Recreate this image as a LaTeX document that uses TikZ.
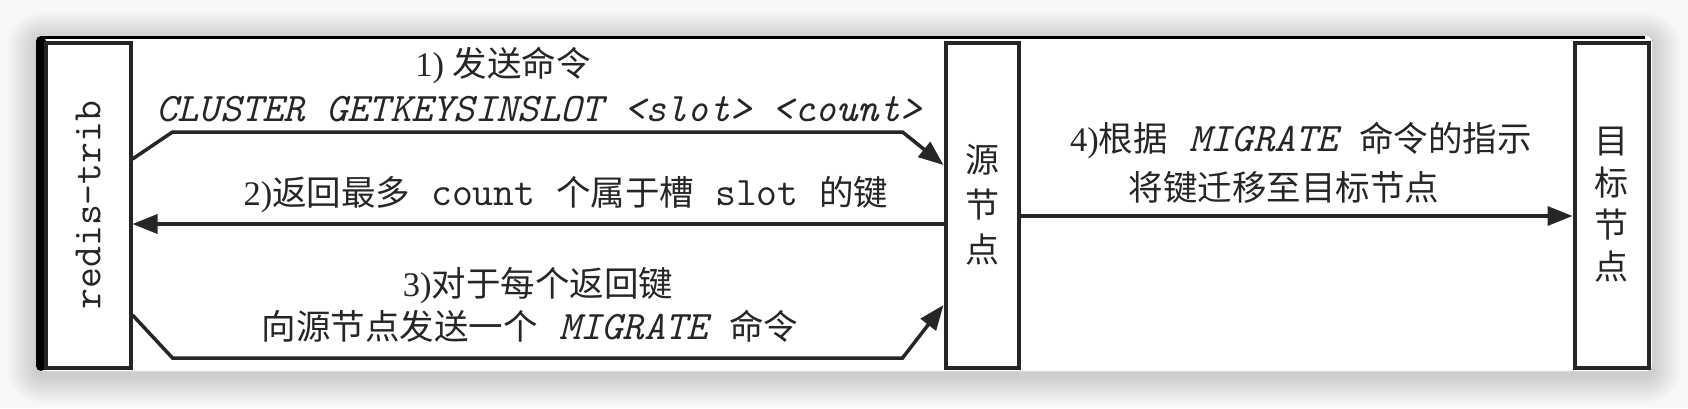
\documentclass[tikz,border=0pt]{standalone}
\usepackage{graphicx}
\usepackage{fontspec}
\setmainfont{Liberation Serif}
\newfontfamily\cjk{Noto Sans CJK SC}
\usetikzlibrary{arrows.meta,positioning,calc}
\definecolor{inkgray}{HTML}{262626}
\definecolor{shadebg}{HTML}{F8F8F8}
\newcommand{\zh}[1]{{\cjk #1}}
\newcommand{\mono}[1]{{\ttfamily\fontsize{40.5}{44}\selectfont #1}}
\newcommand{\cmd}[1]{{\ttfamily\itshape\fontsize{40.5}{44}\selectfont #1}}
\tikzset{
  nodebox/.style={draw=inkgray,line width=4pt,minimum height=325pt,inner sep=0pt,align=center,
    font=\cjk\fontsize{34}{45}\selectfont,text=inkgray},
  cmdarrow/.style={-{Triangle[length=25pt,width=19pt]},line width=3.5pt,draw=inkgray},
  steplabel/.style={font=\fontsize{34.5}{40}\selectfont,text=inkgray,inner sep=0pt}
}
\begin{document}
\begin{tikzpicture}[x=1pt,y=-1pt]
  \useasboundingbox (0,0) rectangle (1688,408);
  % screenshot frame and shadow
  \fill[shadebg] (0,0) rectangle (1688,408);
  \foreach \s in {1,...,14}
    \fill[black,opacity=0.012,rounded corners={6pt+2pt*\s}] (36-2*\s,40-2*\s) rectangle (1652+2*\s,376+2*\s);
  \fill[white,rounded corners=6pt] (36,36) rectangle (1652,371);
  \fill[black,rounded corners=5pt] (36,36) rectangle (46,371);
  \fill[black] (40,36) rectangle (1645,38.5);

  % nodes
  \node[nodebox,minimum width=85pt] (trib) at (88,205) {\rotatebox{90}{\mono{redis-trib}}};
  \node[nodebox,minimum width=73pt,right=811pt of trib] (src) {源\\节\\点};
  \node[nodebox,minimum width=74pt,right=552pt of src,font=\cjk\fontsize{34}{42}\selectfont] (dst) {目\\标\\节\\点};

  % connectors
  \draw[cmdarrow] ([yshift=46pt]trib.east) -- ++(40pt,27pt) -- ++(730pt,0pt) -- ([yshift=40pt]src.west);
  \draw[cmdarrow] ([yshift=-19pt]src.west) -- ([yshift=-19pt]trib.east);
  \draw[cmdarrow] ([yshift=-110pt]trib.east) -- ++(40pt,-43pt) -- ++(730pt,0pt) -- ([yshift=-100pt]src.west);
  \draw[cmdarrow] ([yshift=-11pt]src.east) -- ([yshift=-11pt]dst.west);

  % labels
  \node[steplabel] (send) at (503,65) {1) \zh{发送命令}};
  \node[steplabel] (getkeys) at (539,109) {\cmd{CLUSTER GETKEYSINSLOT <slot> <count>}};
  \node[steplabel] (reply) at (566,195) {2)\zh{返回最多}\mono{ count }\zh{个属于槽}\mono{ slot }\zh{的键}};
  \node[steplabel] (each) at (538,286) {3)\zh{对于每个返回键}};
  \node[steplabel] (sendmig) at (530,326) {\zh{向源节点发送一个}\cmd{ MIGRATE }\zh{命令}};
  \node[steplabel] (follow) at (1301,140) {4)\zh{根据}\cmd{ MIGRATE }\zh{命令的指示}};
  \node[steplabel] (movekeys) at (1284,187) {\zh{将键迁移至目标节点}};
\end{tikzpicture}
\end{document}
